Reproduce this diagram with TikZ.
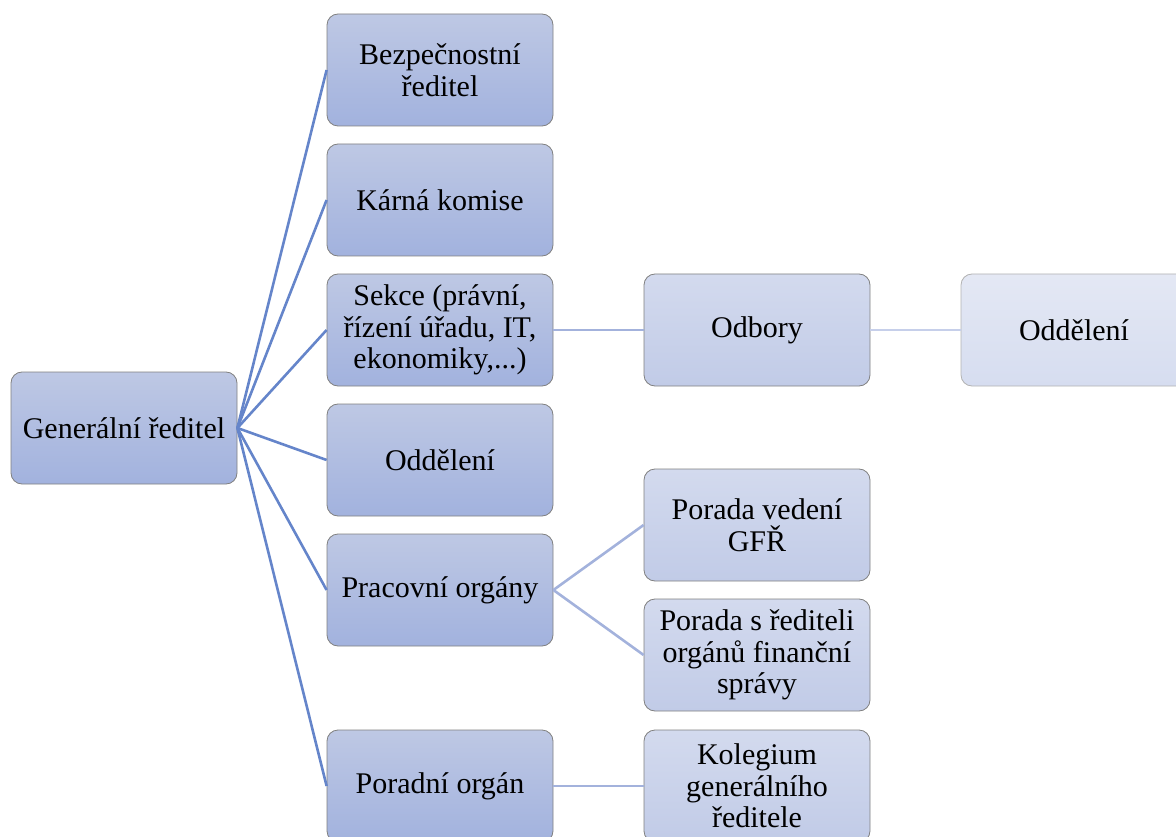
\documentclass[tikz,border=0pt]{standalone}
\usepackage{fontspec}
\setmainfont{Liberation Serif}
\begin{document}
\begin{tikzpicture}[x=1pt,y=-1pt,
  box/.style={draw=black!50, line width=0.8pt, rounded corners=11pt, minimum width=226pt, minimum height=112pt,
    align=center, inner sep=2pt, font=\fontsize{30}{31.5}\selectfont},
  lvA/.style={box, top color=lvAtop, bottom color=lvAbot},
  lvB/.style={box, top color=lvBtop, bottom color=lvBbot},
  lvC/.style={box, draw=black!30, top color=lvCtop, bottom color=lvCbot},
  linkA/.style={draw=linkAc, line width=2.6pt},
  linkB/.style={draw=linkBc, line width=2.6pt},
  linkC/.style={draw=linkCc, line width=2.6pt}]
\definecolor{lvAtop}{HTML}{BEC8E4}
\definecolor{lvAbot}{HTML}{A2B2DE}
\definecolor{lvBtop}{HTML}{D3DAEE}
\definecolor{lvBbot}{HTML}{C1CBE7}
\definecolor{lvCtop}{HTML}{E4E8F4}
\definecolor{lvCbot}{HTML}{D6DDF0}
\definecolor{linkAc}{HTML}{6585CA}
\definecolor{linkBc}{HTML}{A3B2DC}
\definecolor{linkCc}{HTML}{C6CFEA}
\useasboundingbox (0,0) rectangle (1176,837);
\node[lvA] (gr) at (124,428) {Generální ředitel};
\node[lvA] (bez) at (440,70) {Bezpečnostní\\ředitel};
\node[lvA] (kar) at (440,200) {Kárná komise};
\node[lvA] (sek) at (440,330) {Sekce (právní,\\řízení úřadu, IT,\\ekonomiky,...)};
\node[lvA] (odd) at (440,460) {Oddělení};
\node[lvA] (pra) at (440,590) {Pracovní orgány};
\node[lvA] (por) at (440,786) {Poradní orgán};
\node[lvB] (odb) at (757,330) {Odbory};
\node[lvB] (pv) at (757,525) {Porada vedení\\GFŘ};
\node[lvB] (ps) at (757,655) {Porada s řediteli\\orgánů finanční\\správy};
\node[lvB] (kol) at (757,786) {Kolegium\\generálního\\ředitele};
\node[lvC] (odd2) at (1074,330) {Oddělení};
\foreach \t in {bez,kar,sek,odd,pra,por}
  \draw[linkA] (gr.east) -- (\t.west);
\draw[linkB] (sek.east) -- (odb.west);
\draw[linkB] (pra.east) -- (pv.west);
\draw[linkB] (pra.east) -- (ps.west);
\draw[linkB] (por.east) -- (kol.west);
\draw[linkC] (odb.east) -- (odd2.west);
\end{tikzpicture}
\end{document}
